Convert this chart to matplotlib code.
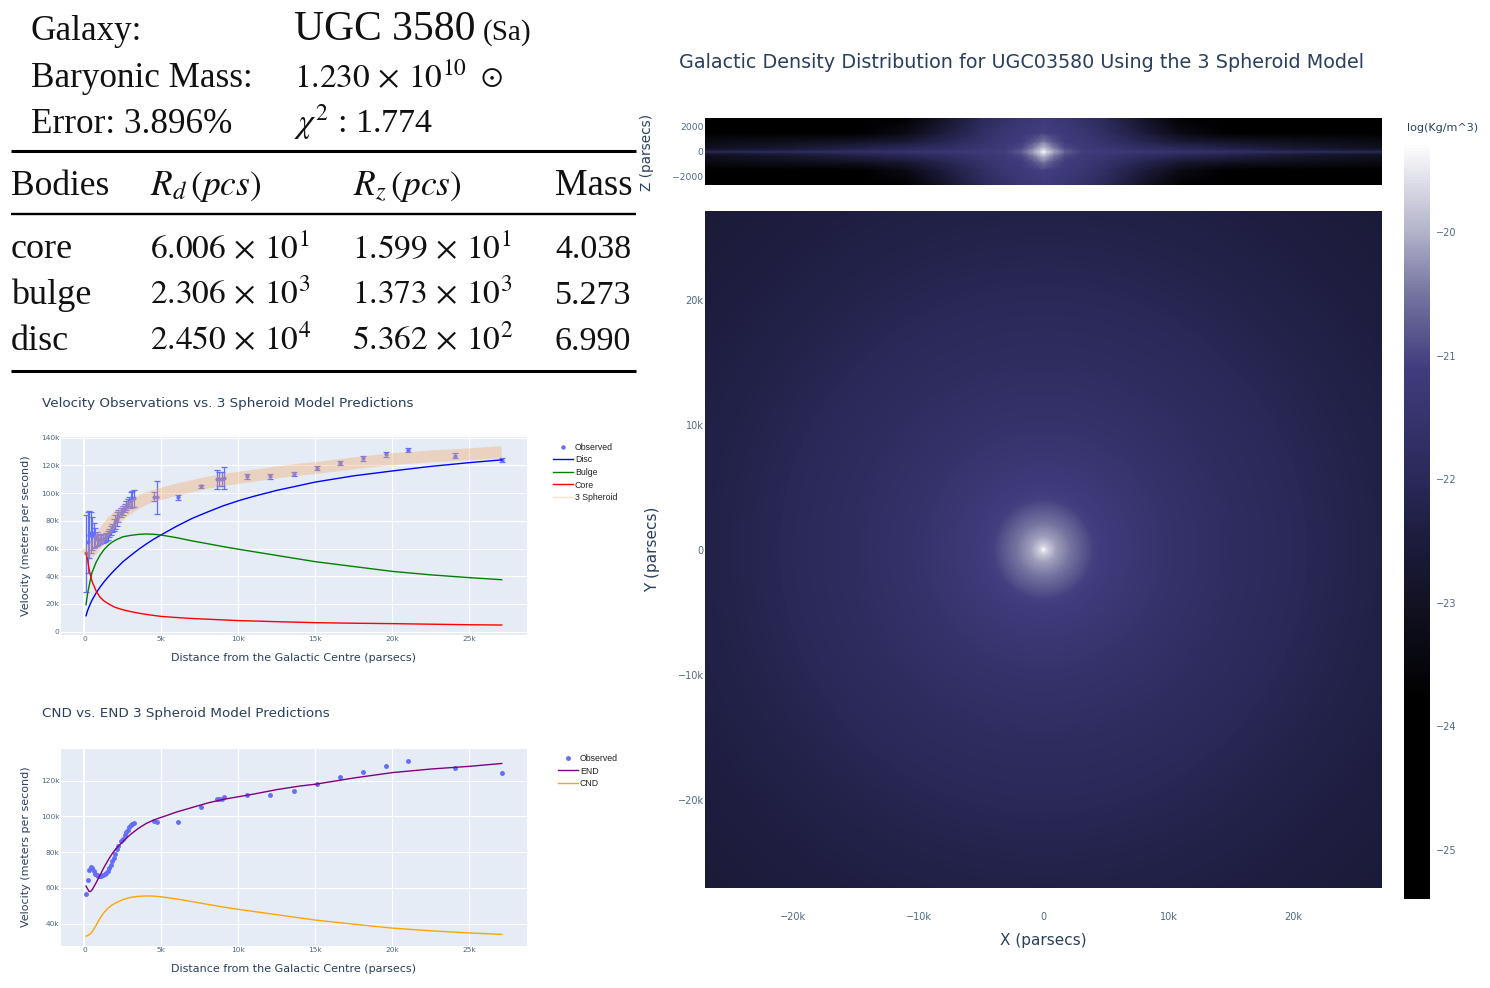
import numpy as np
import matplotlib
matplotlib.use("Agg")
import matplotlib.pyplot as plt
from matplotlib.colors import LinearSegmentedColormap, Normalize
from matplotlib.lines import Line2D

W, H = 1490, 988

# header table
galaxy_rows = [("Galaxy:", 31, 40), ("Baryonic Mass:", 31, 87), ("Error: 3.896%", 31, 133)]
bodies = ["core", "bulge", "disc"]
rd_vals = [r"$6.006\,\times\,10^{1}$", r"$2.306\,\times\,10^{3}$", r"$2.450\,\times\,10^{4}$"]
rz_vals = [r"$1.599\,\times\,10^{1}$", r"$1.373\,\times\,10^{3}$", r"$5.362\,\times\,10^{2}$"]
mass_vals = ["4.038", "5.273", "6.990"]

# observations, all in thousands (parsecs, m/s)
obs_x = [0.1, 0.2, 0.3, 0.4, 0.5, 0.6, 0.7, 0.8, 0.9, 1.0, 1.1, 1.2, 1.3, 1.4, 1.5, 1.6, 1.7, 1.8, 1.9, 2.0,
         2.1, 2.2, 2.4, 2.5, 2.6, 2.7, 2.8, 2.9, 3.0, 3.1, 3.2, 4.5, 4.7, 6.05, 7.55, 8.6, 8.75, 8.9, 9.05,
         10.55, 12.05, 13.6, 15.1, 16.6, 18.1, 19.6, 21.0, 24.05, 27.1]
obs_v = [56.5, 64.5, 70, 71.5, 71, 69.5, 68, 67, 66.8, 66.5, 66.8, 67.2, 67.8, 68.5, 69.5, 71, 73, 75, 77, 79,
         81.5, 83.5, 86, 87.5, 89.5, 91, 92.5, 94, 95, 95.7, 96.2, 97.5, 97, 97, 105, 110, 110, 110, 111,
         112, 112, 114, 118, 122, 125, 128, 131, 127, 124]
obs_err = [28, 22, 17, 15, 12, 9, 7, 5, 4, 3, 3, 3, 3, 3, 3, 3, 3, 3, 4, 5,
           5, 4, 3, 3, 3, 3, 3, 3, 6, 6, 6, 3, 12, 2, 1, 7, 5, 5, 8,
           1.5, 1.5, 1.5, 1.5, 1.5, 1.5, 2, 1.5, 2, 1.5]

# model curves, thousands
curve_x = [0.1, 0.2, 0.3, 0.4, 0.5, 0.75, 1, 1.25, 1.5, 1.75, 2, 2.5, 3, 3.5, 4, 4.5, 5, 6, 7, 8, 9, 10, 11,
           12.5, 14, 15, 17.5, 20, 22.5, 25, 27.1]
disc_v = [11.5, 15.2, 18, 20.6, 23, 27.8, 32, 35.7, 39, 42.1, 45, 50.5, 55, 59.3, 63.2, 66.8, 70, 76.2, 81.8, 86.4,
          90.8, 94.5, 97.7, 102, 105.6, 108, 112.5, 116, 119.3, 122, 124]
bulge_v = [19.5, 27.5, 33, 38.5, 43, 50, 55, 59, 62, 64.3, 66, 68.5, 69.5, 70.2, 70.5, 70.3, 69.7, 67.8, 65.5, 63.5,
           61.4, 59.5, 57.7, 55, 52.3, 50.5, 47, 43.5, 41, 39, 37.5]
core_v = [57, 52, 45, 40, 36, 29.5, 25, 22.3, 20.5, 18.9, 17.5, 15.8, 14.5, 13.4, 12.5, 11.7, 11, 10.2, 9.5, 9,
          8.5, 8, 7.7, 7.2, 6.8, 6.5, 6.1, 5.8, 5.4, 5, 4.8]
end_v = [61, 59.5, 58, 58, 59, 62.8, 67, 71.2, 75, 78.5, 81.5, 86, 90, 93.3, 96, 98, 99.5, 102.5, 105, 107.5,
         109.5, 111, 112.5, 115, 117, 118, 121.5, 124.5, 126.5, 128, 129.6]
cnd_v = [33, 33.3, 33.8, 34.5, 35.5, 39, 43, 46, 48.5, 50.2, 51.5, 53.5, 54.7, 55.3, 55.5, 55.4, 55, 53.8, 52.3, 50.8,
         49.3, 48, 46.8, 45, 43.2, 42, 39.7, 37.5, 36, 34.8, 34]

vel_yticks = [0, 20, 40, 60, 80, 100, 120, 140]
cmp_yticks = [40, 60, 80, 100, 120]
dist_xticks = [0, 5, 10, 15, 20, 25]

# density, log(kg/m^3)
radius_k = [0, 0.1, 0.25, 0.5, 1, 2, 3, 4, 5, 7, 10, 15, 20, 27, 39]
radius_log = [-19.27, -19.45, -19.65, -19.85, -20.15, -20.45, -20.75, -21.05, -21.15, -21.32, -21.55, -21.8, -22.0, -22.3, -22.6]

xz_x = [0, 0.25, 0.8, 1.7, 3, 5, 8, 11, 15, 20, 27.2]
xz_z = [0, 50, 120, 300, 800, 1500, 2700]
xz_log = [
    [-19.27, -19.6, -20.1, -20.7, -21.03, -21.1, -21.2, -21.35, -21.45, -21.6, -21.8],
    [-19.4, -19.7, -20.15, -20.75, -21.08, -21.2, -21.4, -21.6, -21.8, -22.0, -22.15],
    [-19.55, -19.8, -20.2, -20.8, -21.12, -21.28, -21.55, -21.75, -22.0, -22.3, -22.6],
    [-19.85, -20.0, -20.4, -20.95, -21.18, -21.38, -21.72, -21.98, -22.3, -22.7, -23.1],
    [-20.4, -20.55, -20.85, -21.12, -21.25, -21.55, -22.1, -22.6, -22.9, -23.1, -23.3],
    [-21.05, -21.08, -21.12, -21.2, -21.35, -21.75, -22.5, -23.3, -23.9, -24.0, -24.3],
    [-21.2, -21.22, -21.25, -21.35, -21.6, -22.0, -22.9, -23.7, -24.1, -24.3, -24.6],
]

map_ticks = [-20, -10, 0, 10, 20]
map_ticklabels = ["\u221220k", "\u221210k", "0", "10k", "20k"]
z_ticks = [-2000, 0, 2000]
z_ticklabels = ["\u22122000", "0", "2000"]
cbar_ticks = [-20, -21, -22, -23, -24, -25]

TICK = "#506784"
INK = "#2a3f5f"
PLOTBG = "#E5ECF6"
SERIF = "Liberation Serif"
LOG_MIN, LOG_MAX = -25.4, -19.27
plt.rcParams["mathtext.fontset"] = "stix"
plt.rcParams["font.family"] = "DejaVu Sans"


def stop(v):
    return (v - LOG_MIN) / (LOG_MAX - LOG_MIN)


cmap = LinearSegmentedColormap.from_list("density", [
    (0.0, "#000000"),
    (stop(-23.8), "#000000"),
    (stop(-23.0), "#121222"),
    (stop(-22.4), "#1f1e42"),
    (stop(-22.0), "#2a2958"),
    (stop(-21.1), "#403c7e"),
    (stop(-20.5), "#74739f"),
    (stop(-20.0), "#b1b1c9"),
    (1.0, "#ffffff"),
])
norm = Normalize(LOG_MIN, LOG_MAX)


def pixel_axes(fig, left, top, right, bottom):
    return fig.add_axes([left / W, 1 - bottom / H, (right - left) / W, (bottom - top) / H])


def put(fig, x, y, s, **kw):
    return fig.text(x / W, 1 - y / H, s, **kw)


def style_small(ax, xlim, ylim, yticks):
    ax.set_facecolor(PLOTBG)
    ax.set_xlim(*xlim)
    ax.set_ylim(*ylim)
    ax.set_xticks(dist_xticks)
    ax.set_xticklabels(["0"] + [f"{t}k" for t in dist_xticks[1:]])
    ax.set_yticks(yticks)
    ax.set_yticklabels([f"{t}k" if t else "0" for t in yticks])
    ax.grid(color="white", lw=0.8)
    ax.set_axisbelow(True)
    ax.tick_params(length=0, labelsize=5.4, labelcolor=TICK, pad=1)
    for s in ax.spines.values():
        s.set_visible(False)
    ax.axvline(0, color="white", lw=1.3, zorder=1)


def small_labels(fig, y_center, x_y):
    put(fig, 293.5, x_y, "Distance from the Galactic Centre (parsecs)", color=INK, fontsize=8, ha="center", va="center")
    put(fig, 26, y_center, "Velocity (meters per second)", color=INK, fontsize=8, rotation=90, ha="center", va="center")


fig = plt.figure(figsize=(W / 100, H / 100), dpi=100)

# top left table
DARK = "#111111"
for label, x, y in galaxy_rows:
    put(fig, x, y, label, family=SERIF, fontsize=25.3, color=DARK, va="baseline")
put(fig, 294, 40, "UGC 3580", family=SERIF, fontsize=30, color=DARK, va="baseline")
put(fig, 483, 40, "(Sa)", family=SERIF, fontsize=21, color=DARK, va="baseline")
put(fig, 294, 87, r"$1.230\,\times\,10^{10}$", fontsize=24, color=DARK, va="baseline")
put(fig, 480, 85, r"$\odot$", fontsize=21, color=DARK, va="baseline")
put(fig, 294, 133, r"$\chi^{2}$ : 1.774", family=SERIF, fontsize=24.5, color=DARK, va="baseline")
put(fig, 11, 195, "Bodies", family=SERIF, fontsize=25.5, color=DARK, va="baseline")
put(fig, 150, 195, r"$R_d\,(pcs)$", fontsize=25.5, color=DARK, va="baseline")
put(fig, 353, 195, r"$R_z\,(pcs)$", fontsize=25.5, color=DARK, va="baseline")
put(fig, 555, 195, "Mass", family=SERIF, fontsize=26.5, color=DARK, va="baseline")
for i, y in enumerate([258, 304, 350]):
    put(fig, 11, y, bodies[i], family=SERIF, fontsize=26, color=DARK, va="baseline")
    put(fig, 150, y, rd_vals[i], fontsize=24, color=DARK, va="baseline")
    put(fig, 352, y, rz_vals[i], fontsize=24, color=DARK, va="baseline")
    put(fig, 555, y, mass_vals[i], family=SERIF, fontsize=24.5, color=DARK, va="baseline")
for y, lw in [(151, 2.2), (214.5, 1.7), (371, 2.2)]:
    fig.add_artist(Line2D([11 / W, 636 / W], [1 - y / H, 1 - y / H], color="black", lw=lw, solid_capstyle="butt"))

# velocity chart
ax = pixel_axes(fig, 61, 437, 527, 635)
style_small(ax, (-1.526, 28.74), (-2.4, 140.5), vel_yticks)
ax.errorbar(obs_x, obs_v, yerr=obs_err, fmt="o", ms=2, color="#636efa", elinewidth=0.9, capsize=2, capthick=0.9, zorder=3)
ax.plot(curve_x, disc_v, color="blue", lw=1, zorder=4)
ax.plot(curve_x, bulge_v, color="green", lw=1, zorder=4)
ax.plot(curve_x, core_v, color="red", lw=1, zorder=4)
ax.plot(curve_x, end_v, color="#f4a460", alpha=0.35, lw=8.6, solid_capstyle="butt", zorder=5)
put(fig, 42, 403, "Velocity Observations vs. 3 Spheroid Model Predictions", color=INK, fontsize=9.7, va="center")
small_labels(fig, 536, 658)
fig.legend(handles=[
    Line2D([], [], color="#636efa", marker="o", ms=2.2, ls="none", label="Observed"),
    Line2D([], [], color="blue", lw=1, label="Disc"),
    Line2D([], [], color="green", lw=1, label="Bulge"),
    Line2D([], [], color="red", lw=1, label="Core"),
    Line2D([], [], color="#f4a460", alpha=0.35, lw=1, label="3 Spheroid"),
], loc="upper left", bbox_to_anchor=(553 / W, 1 - 443 / H), frameon=False, labelcolor="#222222",
    prop={"family": "Liberation Sans", "size": 6.3},
    labelspacing=0.4, handlelength=2.3, handletextpad=0.2, borderpad=0, borderaxespad=0)

# CND vs END chart
ax = pixel_axes(fig, 61, 749, 527, 946)
style_small(ax, (-1.526, 28.74), (27.5, 137.7), cmp_yticks)
ax.plot(obs_x, obs_v, "o", ms=2.5, color="#636efa", zorder=3)
ax.plot(curve_x, end_v, color="purple", lw=1, zorder=4)
ax.plot(curve_x, cnd_v, color="orange", lw=1, zorder=4)
put(fig, 42, 714, "CND vs. END 3 Spheroid Model Predictions", color=INK, fontsize=9.7, va="center")
small_labels(fig, 847, 969)
fig.legend(handles=[
    Line2D([], [], color="#636efa", marker="o", ms=2.5, ls="none", label="Observed"),
    Line2D([], [], color="purple", lw=1, label="END"),
    Line2D([], [], color="orange", lw=1, label="CND"),
], loc="upper left", bbox_to_anchor=(558 / W, 1 - 754 / H), frameon=False, labelcolor="#222222",
    prop={"family": "Liberation Sans", "size": 6.3},
    labelspacing=0.4, handlelength=2.3, handletextpad=0.2, borderpad=0, borderaxespad=0)

# edge-on map, mirrored from the quadrant table
xz = np.array(xz_log)
xz = np.hstack([xz[:, :0:-1], xz])
xz = np.vstack([xz[:0:-1], xz])
xs = np.r_[-np.array(xz_x[:0:-1]), xz_x]
zs = np.r_[-np.array(xz_z[:0:-1]), xz_z]
ax = pixel_axes(fig, 705, 118, 1382, 185)
ax.pcolormesh(xs, zs, xz, cmap=cmap, norm=norm, shading="gouraud", rasterized=True)
ax.set_xlim(-27.08, 27.08)
ax.set_ylim(-2720, 2720)
ax.set_xticks([])
ax.set_yticks(z_ticks)
ax.set_yticklabels(z_ticklabels)
ax.tick_params(length=0, labelsize=6.6, labelcolor=TICK, pad=1)
for s in ax.spines.values():
    s.set_visible(False)
put(fig, 647, 152, "Z (parsecs)", color=INK, fontsize=9.8, rotation=90, ha="center", va="center")

# face-on map
grid = np.linspace(-27.08, 27.08, 541)
gx, gy = np.meshgrid(grid, grid)
face = np.interp(np.hypot(gx, gy), radius_k, radius_log)
ax = pixel_axes(fig, 705, 211, 1382, 888)
im = ax.imshow(face, extent=(-27.08, 27.08, -27.08, 27.08), origin="lower", cmap=cmap, norm=norm, aspect="auto", interpolation="bilinear")
ax.set_xticks(map_ticks)
ax.set_xticklabels(map_ticklabels)
ax.set_yticks(map_ticks)
ax.set_yticklabels(map_ticklabels)
ax.tick_params(length=0, labelsize=7, labelcolor=TICK, pad=1)
ax.tick_params(axis="x", pad=17)
for s in ax.spines.values():
    s.set_visible(False)
put(fig, 1043, 940, "X (parsecs)", color=INK, fontsize=11, ha="center", va="center")
put(fig, 653, 549, "Y (parsecs)", color=INK, fontsize=11, rotation=90, ha="center", va="center")
put(fig, 679, 62, "Galactic Density Distribution for UGC03580 Using the 3 Spheroid Model", color=INK, fontsize=13.8, va="center")

# colour bar
cax = pixel_axes(fig, 1404, 142, 1430, 899)
cbar = fig.colorbar(im, cax=cax)
cbar.set_ticks(cbar_ticks)
cbar.set_ticklabels([f"\u2212{abs(t)}" for t in cbar_ticks])
cbar.ax.tick_params(length=0, labelsize=7, labelcolor=TICK, pad=4)
cbar.outline.set_visible(False)
put(fig, 1443, 128, "log(Kg/m^3)", color=INK, fontsize=8, ha="center", va="center")

fig.savefig("out.png", dpi=100)
